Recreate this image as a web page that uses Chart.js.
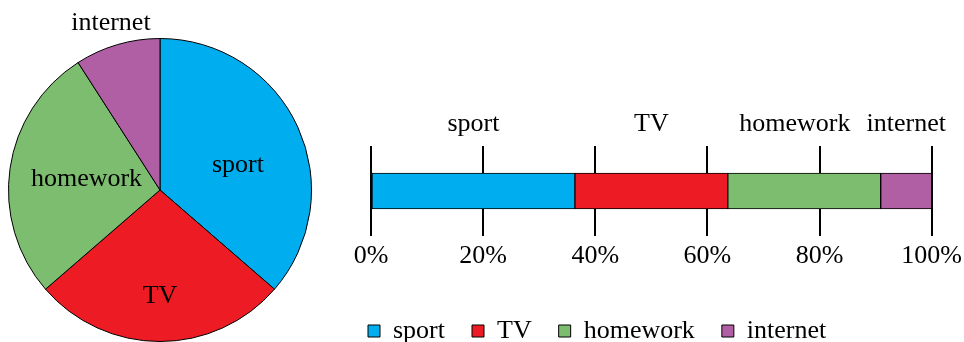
<!DOCTYPE html>
<html>
<head>
<meta charset="utf-8">
<script src="https://cdn.jsdelivr.net/npm/chart.js@4.4.0/dist/chart.umd.min.js"></script>
<style>
  html, body { margin: 0; padding: 0; background: #fff; overflow: hidden; }
  #wrap { position: relative; width: 964px; height: 342px; overflow: hidden; }
  #pie { position: absolute; left: 0; top: 0; }
  #bar { position: absolute; left: 340px; top: 100px; }
</style>
</head>
<body>
<div id="wrap">
  <canvas id="pie" width="330" height="342"></canvas>
  <canvas id="bar" width="627" height="254"></canvas>
</div>
<script>
const categories = ['sport', 'TV', 'homework', 'internet'];
const counts = [40, 30, 30, 10];
const colors = ['#00aeef', '#ed1c24', '#7dbd6f', '#b05fa5'];
const tickValues = [0, 20, 40, 60, 80, 100];

const FONT = '"Liberation Serif", "Times New Roman", serif';
const total = counts.reduce((a, b) => a + b, 0);
const percents = counts.map(c => c / total * 100);

// where the pie labels sit: fraction of the radius, and a nudge of the angle in degrees
const pieLabelRadius = [0.54, 0.7, 0.49, 1.15];
const pieLabelTurn = [7, 0, 0, 0];

const pieLabels = {
    id: 'pieLabels',
    afterDraw(chart) {
        const ctx = chart.ctx;
        const meta = chart.getDatasetMeta(0);
        ctx.save();
        ctx.font = '26px ' + FONT;
        ctx.fillStyle = '#000';
        ctx.textAlign = 'center';
        ctx.textBaseline = 'middle';
        meta.data.forEach((arc, i) => {
            const mid = (arc.startAngle + arc.endAngle) / 2 + pieLabelTurn[i] * Math.PI / 180;
            const r = arc.outerRadius * pieLabelRadius[i];
            ctx.fillText(categories[i], arc.x + Math.cos(mid) * r, arc.y + Math.sin(mid) * r);
        });
        ctx.restore();
    }
};

new Chart(document.getElementById('pie'), {
    type: 'pie',
    data: {
        labels: categories,
        datasets: [{
            data: counts,
            backgroundColor: colors,
            borderColor: '#000',
            borderWidth: 1
        }]
    },
    options: {
        responsive: false,
        devicePixelRatio: 1,
        animation: false,
        layout: { padding: { left: 8, right: 18, top: 38, bottom: 0 } },
        plugins: { legend: { display: false }, tooltip: { enabled: false } }
    },
    plugins: [pieLabels]
});

const barLabels = {
    id: 'barLabels',
    afterDraw(chart) {
        const ctx = chart.ctx;
        ctx.save();
        ctx.font = '26px ' + FONT;
        ctx.fillStyle = '#000';
        ctx.textAlign = 'center';
        ctx.textBaseline = 'middle';
        const items = categories.map((name, i) => {
            const bar = chart.getDatasetMeta(i).data[0];
            return { name, x: (bar.x + bar.base) / 2, w: ctx.measureText(name).width };
        });
        // push labels left so they don't run into each other
        for (let i = items.length - 2; i >= 0; i--) {
            const limit = items[i + 1].x - items[i + 1].w / 2 - 16;
            if (items[i].x + items[i].w / 2 > limit) items[i].x = limit - items[i].w / 2;
        }
        const y = chart.chartArea.top - 22;
        items.forEach(it => ctx.fillText(it.name, it.x, y));
        ctx.restore();
    }
};

new Chart(document.getElementById('bar'), {
    type: 'bar',
    data: {
        labels: [''],
        datasets: categories.map((name, i) => ({
            label: name,
            data: [percents[i]],
            backgroundColor: colors[i],
            borderColor: '#000',
            borderWidth: 1,
            borderSkipped: false,
            barThickness: 36
        }))
    },
    options: {
        indexAxis: 'y',
        responsive: false,
        devicePixelRatio: 1,
        animation: false,
        layout: { padding: { left: 1, right: 0, top: 46, bottom: 0 } },
        scales: {
            x: {
                stacked: true,
                min: 0,
                max: 100,
                afterBuildTicks: axis => { axis.ticks = tickValues.map(v => ({ value: v })); },
                afterFit: axis => { axis.height = 55; },
                ticks: {
                    callback: v => v + '%',
                    color: '#000',
                    font: { family: FONT, size: 26 },
                    padding: 5,
                    maxRotation: 0
                },
                grid: { color: '#000', lineWidth: 2, drawTicks: false },
                border: { display: false }
            },
            y: {
                stacked: true,
                ticks: { display: false },
                grid: { display: false },
                border: { display: false },
                afterFit: axis => { axis.width = 30; }
            }
        },
        plugins: {
            tooltip: { enabled: false },
            legend: {
                position: 'bottom',
                align: 'start',
                labels: {
                    color: '#000',
                    font: { family: FONT, size: 26 },
                    boxWidth: 12,
                    boxHeight: 12,
                    padding: 27
                }
            }
        }
    },
    plugins: [barLabels]
});
</script>
</body>
</html>
